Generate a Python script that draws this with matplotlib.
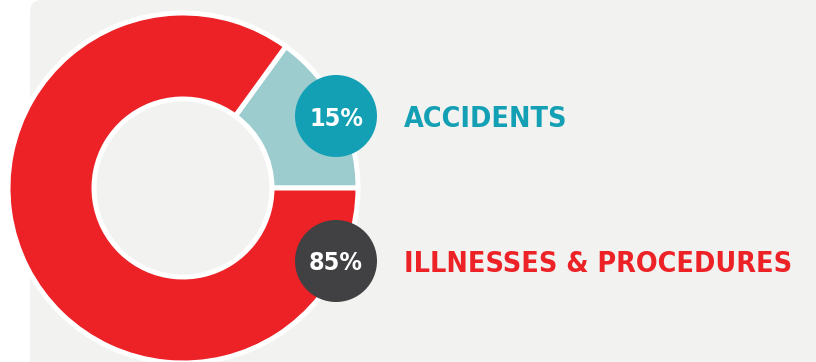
import matplotlib
matplotlib.use("Agg")
import matplotlib.pyplot as plt
from matplotlib.patches import FancyBboxPatch, Circle

# Data
categories = ["ACCIDENTS", "ILLNESSES & PROCEDURES"]
values = [15, 85]
pct_labels = ["15%", "85%"]

# Styles
RED = "#EC2227"
TEAL_LIGHT = "#9CCCCE"
TEAL = "#13A0B5"
DARK = "#414143"
BG = "#F2F2F0"
FONT = dict(family="DejaVu Sans", stretch="condensed", weight="bold")

W, H = 816, 362
fig = plt.figure(figsize=(W / 100, H / 100), dpi=100, facecolor="white")
ax = fig.add_axes([0, 0, 1, 1])

# panel background
ax.add_patch(FancyBboxPatch((30 + 12, -40), W, H + 40 - 12,
                            boxstyle="round,pad=12,rounding_size=12",
                            facecolor=BG, edgecolor="none", zorder=0))

cx, cy, R = 183, 174, 175
ax.pie(values, startangle=0, counterclock=True, radius=R, center=(cx, cy),
       colors=[TEAL_LIGHT, RED], frame=True,
       wedgeprops=dict(width=86, edgecolor="white", linewidth=3.6, zorder=2))

# badges & labels
badge_y = [246, 101]
badge_colors = [TEAL, DARK]
label_colors = [TEAL, RED]
for y, bc, lc, pct, cat in zip(badge_y, badge_colors, label_colors, pct_labels, categories):
    ax.add_patch(Circle((336, y), 41, facecolor=bc, edgecolor="none", zorder=5))
    ax.text(336, y, pct, color="white", fontsize=18, ha="center", va="center_baseline",
            zorder=6, **FONT)
    ax.text(404, y, cat, color=lc, fontsize=20.5, ha="left", va="center_baseline",
            zorder=6, **FONT)

ax.set_xlim(0, W)
ax.set_ylim(0, H)
ax.set_aspect("auto")
ax.axis("off")
fig.savefig("out.png", dpi=100, facecolor="white")
